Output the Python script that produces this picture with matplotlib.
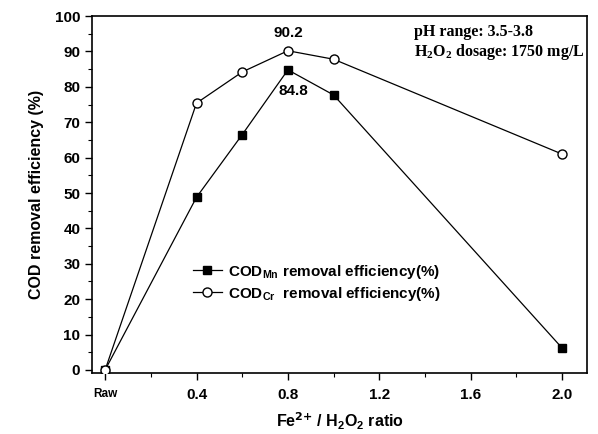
import matplotlib
matplotlib.use("Agg")
import matplotlib.pyplot as plt
from matplotlib.ticker import MultipleLocator, FixedLocator

plt.rcParams['font.family'] = ['Liberation Sans', 'DejaVu Sans']
plt.rcParams['font.weight'] = 'bold'
plt.rcParams['mathtext.default'] = 'regular'

# Fe2+/H2O2 ratio (0 = raw water)
ratio = [0.0, 0.4, 0.6, 0.8, 1.0, 2.0]
cod_mn = [0.0, 48.8, 66.5, 84.8, 77.7, 6.2]
cod_cr = [0.0, 75.4, 84.2, 90.2, 87.8, 61.0]
xtick_pos = [0.0, 0.4, 0.8, 1.2, 1.6, 2.0]
xtick_labels = ['Raw', '0.4', '0.8', '1.2', '1.6', '2.0']

fig = plt.figure(figsize=(5.98, 4.34), dpi=100)
ax = fig.add_axes([0.154, 0.141, 0.828, 0.822])

ax.plot(ratio, cod_mn, color='black', lw=0.9, marker='s', ms=5.8,
        mfc='black', mec='black', label=r'COD$_{Mn}$ removal efficiency(%)', zorder=3)
ax.plot(ratio, cod_cr, color='black', lw=0.9, marker='o', ms=6.5,
        mfc='white', mec='black', mew=1.0, label=r'COD$_{Cr}$  removal efficiency(%)', zorder=3)

ax.set_xlim(-0.057, 2.11)
ax.set_ylim(-0.8, 100)
ax.xaxis.set_major_locator(FixedLocator(xtick_pos))
ax.set_xticklabels(xtick_labels)
ax.xaxis.set_minor_locator(MultipleLocator(0.2))
ax.yaxis.set_major_locator(MultipleLocator(10))
ax.yaxis.set_minor_locator(MultipleLocator(5))
ax.tick_params(which='major', direction='out', length=5, width=1.0, labelsize=11)
ax.tick_params(which='minor', direction='out', length=3, width=0.8)
ax.tick_params(axis='x', labelsize=11, pad=6)
ax.tick_params(top=False, right=False)
for s in ax.spines.values():
    s.set_linewidth(1.2)
# "Raw" label smaller
ax.get_xticklabels()[0].set_fontsize(8.5)

ax.set_xlabel(r'Fe$^{\text{2+}}$ / H$_2$O$_2$ ratio', fontsize=11.5, fontweight='bold', labelpad=6)
ax.set_ylabel('COD removal efficiency (%)', fontsize=11.5, fontweight='bold', labelpad=8)

ax.annotate(f'{cod_cr[3]:.1f}', (ratio[3], cod_cr[3]), xytext=(0, 8),
            textcoords='offset points', ha='center', va='bottom', fontsize=11, fontweight='bold')
ax.annotate(f'{cod_mn[3]:.1f}', (ratio[3], cod_mn[3]), xytext=(4, -15),
            textcoords='offset points', ha='center', va='center', fontsize=11, fontweight='bold')

serif = ['Liberation Serif', 'DejaVu Serif']
ax.text(0.651, 0.955, 'pH range: 3.5-3.8', transform=ax.transAxes, family=serif,
        fontsize=11.5, fontweight='bold', va='center', ha='left')
ax.text(0.651, 0.899, r'H$_2$O$_2$ dosage: 1750 mg/L', transform=ax.transAxes, family=serif,
        fontsize=11.5, fontweight='bold', va='center', ha='left')

leg = ax.legend(loc='upper left', bbox_to_anchor=(182 / 598, 1 - 252 / 434),
                bbox_transform=fig.transFigure, frameon=False, fontsize=11,
                handlelength=1.9, handletextpad=0.4, labelspacing=0.25, borderpad=0.2)

fig.savefig('out.png', dpi=100)
